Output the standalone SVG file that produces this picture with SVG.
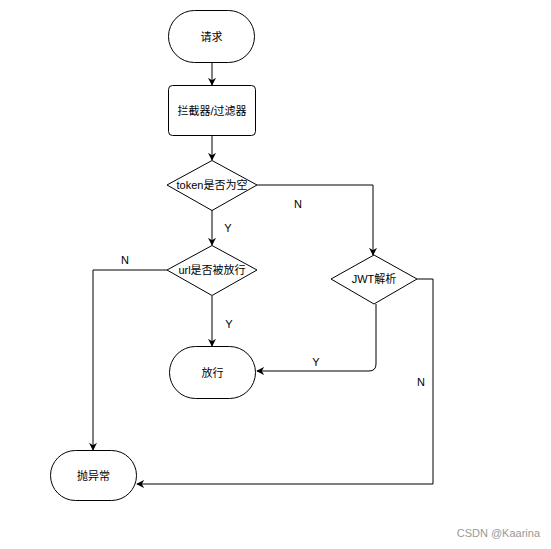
<svg xmlns="http://www.w3.org/2000/svg" width="551" height="549" viewBox="0 0 551 549">
<defs>
<style>
.n{fill:#fff;stroke:#000;stroke-width:1}
.t{font-family:"Liberation Sans","Noto Sans CJK SC",sans-serif;font-size:11px;fill:#000;text-anchor:middle;dominant-baseline:central}
.l{font-family:"Liberation Sans",sans-serif;font-size:11px;fill:#000;text-anchor:middle;dominant-baseline:central}
.c{fill:none;stroke:#000;stroke-width:1}
</style>
<marker id="a" viewBox="0 0 10 10" refX="9" refY="5" markerWidth="8" markerHeight="8" orient="auto" markerUnits="userSpaceOnUse">
<path d="M0,0 L10,5 L0,10 L3,5 Z" fill="#000"/>
</marker>
</defs>
<rect width="551" height="549" fill="#fff"/>
<g id="connectors">
<path class="c" d="M212,62 V85" marker-end="url(#a)"/>
<path class="c" d="M212,135 V160" marker-end="url(#a)"/>
<path class="c" d="M212,210 V245" marker-end="url(#a)"/>
<path class="c" d="M257,185 H373 V255" marker-end="url(#a)"/>
<path class="c" d="M212,296 V346" marker-end="url(#a)"/>
<path class="c" d="M376,304 V364 Q376,371 369,371 H257" marker-end="url(#a)"/>
<path class="c" d="M167,270 H93 V450" marker-end="url(#a)"/>
<path class="c" d="M417,279 H433 V484 H137" marker-end="url(#a)"/>
<text class="l" x="228" y="228">Y</text>
<text class="l" x="298" y="204">N</text>
<text class="l" x="229" y="324">Y</text>
<text class="l" x="316" y="362">Y</text>
<text class="l" x="125" y="260">N</text>
<text class="l" x="421" y="382">N</text>
</g>
<g id="n1"><rect class="n" x="168.5" y="10.5" width="86" height="52" rx="26"/><text class="t" x="211.5" y="36.5">请求</text></g>
<g id="n2"><rect class="n" x="168.5" y="85.5" width="87" height="50" rx="4"/><text class="t" x="212" y="110.5">拦截器/过滤器</text></g>
<g id="n3"><path class="n" d="M212,160.5 L257,185 L212,210.5 L167,185 Z"/><text class="t" x="212" y="185">token是否为空</text></g>
<g id="n4"><path class="n" d="M212,245.5 L257,270 L212,295.5 L167,270 Z"/><text class="t" x="212" y="270">url是否被放行</text></g>
<g id="n5"><path class="n" d="M374,255 L417,279 L374,304 L331,279 Z"/><text class="t" x="374" y="279">JWT解析</text></g>
<g id="n6"><rect class="n" x="169.5" y="346.5" width="86" height="52" rx="26"/><text class="t" x="212.5" y="372.5">放行</text></g>
<g id="n7"><rect class="n" x="50.5" y="450.5" width="86" height="50" rx="25"/><text class="t" x="93.5" y="475.5">抛异常</text></g>
<text x="540" y="533" font-family="'Liberation Sans',sans-serif" font-size="11" fill="#999" text-anchor="end" dominant-baseline="central">CSDN @Kaarina</text>
</svg>
